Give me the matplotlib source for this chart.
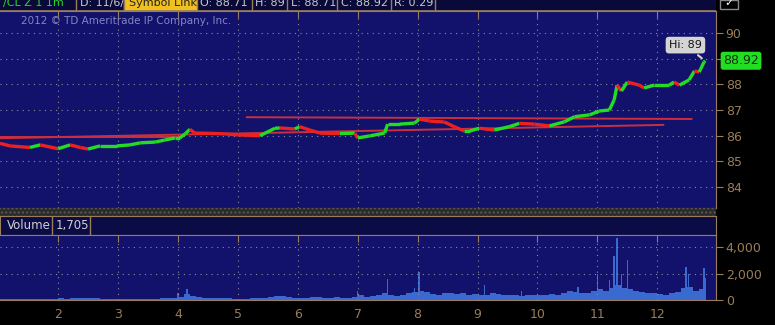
import matplotlib
matplotlib.use("Agg")
import matplotlib.pyplot as plt
import matplotlib.patches as mpatches
from matplotlib.collections import LineCollection
import numpy as np

# price trace (day of month, price)
price_days = [1.03, 1.20, 1.53, 1.70, 2.00, 2.20, 2.37, 2.50, 2.70, 2.98,
              3.20, 3.37, 3.62, 3.78, 3.95, 4.03, 4.12, 4.20, 4.28, 4.53,
              4.78, 5.00, 5.37, 5.62, 5.70, 5.95, 6.03, 6.20, 6.37, 6.70,
              6.95, 7.00, 7.20, 7.45, 7.50, 7.70, 7.95, 8.03, 8.20, 8.45,
              8.62, 8.78, 8.87, 9.03, 9.28, 9.53, 9.70, 9.95, 10.20, 10.45,
              10.62, 10.87, 11.03, 11.20, 11.28, 11.33, 11.40, 11.50, 11.70, 11.78,
              11.95, 12.20, 12.28, 12.37, 12.53, 12.62, 12.70, 12.78, 12.80]
price_vals = [85.70, 85.60, 85.54, 85.64, 85.49, 85.64, 85.54, 85.48, 85.60, 85.60,
              85.64, 85.72, 85.75, 85.83, 85.91, 85.91, 86.07, 86.25, 86.10, 86.09,
              86.07, 86.03, 86.00, 86.29, 86.30, 86.26, 86.35, 86.22, 86.10, 86.08,
              86.10, 85.91, 85.99, 86.10, 86.45, 86.45, 86.49, 86.65, 86.57, 86.53,
              86.34, 86.18, 86.18, 86.29, 86.22, 86.35, 86.48, 86.45, 86.38, 86.54,
              86.74, 86.81, 86.96, 87.00, 87.39, 87.97, 87.74, 88.09, 87.97, 87.86,
              87.97, 87.97, 88.09, 87.97, 88.17, 88.52, 88.48, 88.87, 88.92]

# hand drawn trend lines: (day0, price0, day1, price1)
trend_lines = [(5.15, 86.72, 12.57, 86.65),
               (1.03, 85.90, 12.10, 86.42),
               (1.03, 85.93, 4.05, 85.93)]

# volume: base level every 0.1 day, plus narrow spikes
vol_days = [round(1.05 + 0.1 * i, 2) for i in range(118)]
vol_base = [40, 40, 50, 40, 60, 50, 70, 60, 80, 90,
            120, 100, 150, 180, 160, 130, 120, 100, 80, 60,
            50, 60, 80, 70, 100, 90, 110, 150, 140, 120,
            250, 450, 300, 200, 180, 160, 140, 150, 120, 100,
            80, 100, 120, 150, 180, 250, 300, 280, 200, 150,
            120, 150, 200, 250, 180, 160, 200, 180, 150, 200,
            350, 250, 300, 400, 500, 350, 300, 350, 500, 600,
            700, 600, 450, 400, 500, 550, 450, 500, 400, 450,
            400, 350, 500, 450, 350, 400, 350, 300, 350, 400,
            350, 400, 450, 400, 500, 650, 600, 500, 550, 650,
            800, 700, 900, 1100, 900, 800, 700, 600, 550, 500,
            450, 400, 500, 600, 900, 1000, 700, 800]
spike_days = [4.00, 4.15, 7.00, 7.50, 7.95, 8.02, 9.12, 9.73, 10.68, 11.00,
              11.20, 11.28, 11.32, 11.33, 11.40, 11.50, 12.48, 12.52, 12.78, 12.80]
spike_vals = [500, 800, 700, 1600, 900, 2100, 1100, 700, 1000, 2000,
              1500, 3300, 2800, 4700, 2000, 3000, 2500, 2000, 2400, 1700]

day_ticks = list(range(2, 13))
price_ticks = [84, 85, 86, 87, 88, 89, 90]
price_ticklabels = ["84", "85", "86", "87", "88", "", "90"]
vol_ticks = [0, 2000, 4000]
vol_ticklabels = ["0", "2,000", "4,000"]

W, H = 775, 325
BG = "#12126c"
TAN = "#9a7d5a"
GRID = "#8c8c8c"


def rect(l, t, r, b):
    return [l / W, 1 - b / H, (r - l) / W, (b - t) / H]


fig = plt.figure(figsize=(W / 100, H / 100), dpi=100, facecolor="black")

# top header strip (its text is cut at the top edge, like the screenshot)
hdr = fig.add_axes(rect(0, 0, 716, 11))
hdr.set_xlim(0, 716)
hdr.set_ylim(11, 0)
hdr.axis("off")
hdr.add_patch(mpatches.Rectangle((0, 0), 716, 11, color="#0a0a3a", zorder=0))
hdr_texts = [(3, 74, "/CL Z 1 1m", "#22dd22"), (80, 123, "D: 11/6/12", "#c8c8c8"),
             (200, 251, "O: 88.71", "#c8c8c8"), (255, 286, "H: 89", "#c8c8c8"),
             (291, 336, "L: 88.71", "#c8c8c8"), (341, 390, "C: 88.92", "#c8c8c8"),
             (394, 434, "R: 0.29", "#c8c8c8")]
for x0, x1, s, c in hdr_texts:
    t = hdr.text(x0, 3.0, s, color=c, fontsize=8, va="center", ha="left", zorder=2)
    clip = mpatches.Rectangle((x0, -5), x1 - x0, 16, transform=hdr.transData)
    t.set_clip_path(clip)
hdr.add_patch(mpatches.Rectangle((124, -2), 72, 12, color="#f0c020", zorder=3))
sl = hdr.text(129, 3.0, "Symbol Link", color="#222222", fontsize=8, va="center", ha="left",
              zorder=4)
sl.set_clip_path(mpatches.Rectangle((124, -5), 72, 16, transform=hdr.transData))
for sx in [76, 124, 197, 252, 287, 337, 391, 435]:
    hdr.plot([sx, sx], [0, 11], color=TAN, lw=1, zorder=5)
hdr.plot([0, 716], [10.5, 10.5], color=TAN, lw=1.2, zorder=5)

# checkbox icon at top right
fig.patches.append(mpatches.Rectangle((720 / W, 1 - 9 / H), 18 / W, 9 / H,
                                      transform=fig.transFigure, fill=False,
                                      ec="#888888", lw=1))
fig.text(729 / W, 1 - 3 / H, "\u2713", color="white", fontsize=8, ha="center", va="center")

# price panel
ax = fig.add_axes(rect(0, 11, 716, 208))
ax.set_facecolor(BG)
ax.set_xlim(1.03, 12.98)
ax.set_ylim(83.18, 90.86)

pts = np.column_stack([price_days, price_vals])
segs = np.stack([pts[:-1], pts[1:]], axis=1)
cols = ["#22dd22" if price_vals[i + 1] >= price_vals[i] else "#ee2020"
        for i in range(len(price_vals) - 1)]
ax.add_collection(LineCollection(segs, colors=cols, linewidths=2.4, zorder=3))

for d0, p0, d1, p1 in trend_lines:
    ax.plot([d0, d1], [p0, p1], color="#c83040", lw=1.4, zorder=2)

ax.set_xticks(day_ticks)
ax.set_yticks(price_ticks)
ax.set_yticklabels(price_ticklabels)
ax.grid(True, color=GRID, linestyle=(0, (1, 4)), lw=0.8)
ax.tick_params(axis="x", top=True, bottom=False, labelbottom=False,
               direction="in", length=5, color=TAN)
ax.tick_params(axis="y", left=False, right=True, labelleft=False, labelright=True,
               direction="out", length=5, color=TAN, labelcolor=TAN, labelsize=9, pad=2)
for side in ["top", "bottom", "right"]:
    ax.spines[side].set_color(TAN)
ax.spines["left"].set_visible(False)

ax.text(0.03, 0.95, "2012 \u00a9 TD Ameritrade IP Company, Inc.", transform=ax.transAxes,
        color="#8484c4", fontsize=7.5, va="center", ha="left")

ax.annotate("Hi: 89", xy=(12.78, 88.95), xytext=(12.47, 89.53),
            color="#111111", fontsize=8, ha="center", va="center",
            bbox=dict(boxstyle="round,pad=0.3", fc="#d4d4d4", ec="none"),
            arrowprops=dict(arrowstyle="-", color="#d4d4d4", lw=1.5))
ax.annotate("88.92", xy=(1.01, 88.92), xycoords=("axes fraction", "data"),
            color="#103010", fontsize=9, ha="left", va="center", annotation_clip=False,
            bbox=dict(boxstyle="round,pad=0.2", fc="#22dd22", ec="none"))

# separator strip
sep = fig.add_axes(rect(0, 208, 716, 216))
sep.set_facecolor("#2a2a2a")
sep.add_patch(mpatches.Rectangle((0, 0), 1, 1, fc="#2a2a2a", ec="#5a5a5a", hatch="....", lw=0))
sep.set_xlim(0, 1)
sep.set_ylim(0, 1)
sep.axis("off")

# volume header strip
vh = fig.add_axes(rect(0, 216, 716, 235))
vh.set_facecolor("#0b0b46")
vh.set_xlim(0, 716)
vh.set_ylim(19, 0)
vh.set_xticks([])
vh.set_yticks([])
for s in vh.spines.values():
    s.set_color(TAN)
vh.plot([52, 52], [0, 19], color=TAN, lw=1)
vh.plot([90, 90], [0, 19], color=TAN, lw=1)
vh.text(7, 9.5, "Volume", color="#d0d0d0", fontsize=8.5, va="center", ha="left")
vh.text(56, 9.5, "1,705", color="#d0d0d0", fontsize=8.5, va="center", ha="left")

# volume panel
av = fig.add_axes(rect(0, 235, 716, 300))
av.set_facecolor(BG)
av.set_xlim(1.03, 12.98)
av.set_ylim(0, 4920)
av.bar(vol_days, vol_base, width=0.1, color="#3a6ad0", lw=0)
av.bar(spike_days, spike_vals, width=0.025, color="#3a6ad0", lw=0)
av.set_xticks(day_ticks)
av.set_yticks(vol_ticks)
av.set_yticklabels(vol_ticklabels)
av.grid(True, color=GRID, linestyle=(0, (1, 4)), lw=0.8)
av.tick_params(axis="x", top=True, bottom=False, labelbottom=True,
               direction="in", length=5, color=TAN, labelcolor=TAN, labelsize=9, pad=6)
av.tick_params(axis="y", left=False, right=True, labelleft=False, labelright=True,
               direction="out", length=5, color=TAN, labelcolor=TAN, labelsize=9, pad=2)
for side in ["top", "bottom", "right"]:
    av.spines[side].set_color(TAN)
av.spines["left"].set_visible(False)

fig.savefig("out.png", dpi=100, facecolor="black")
